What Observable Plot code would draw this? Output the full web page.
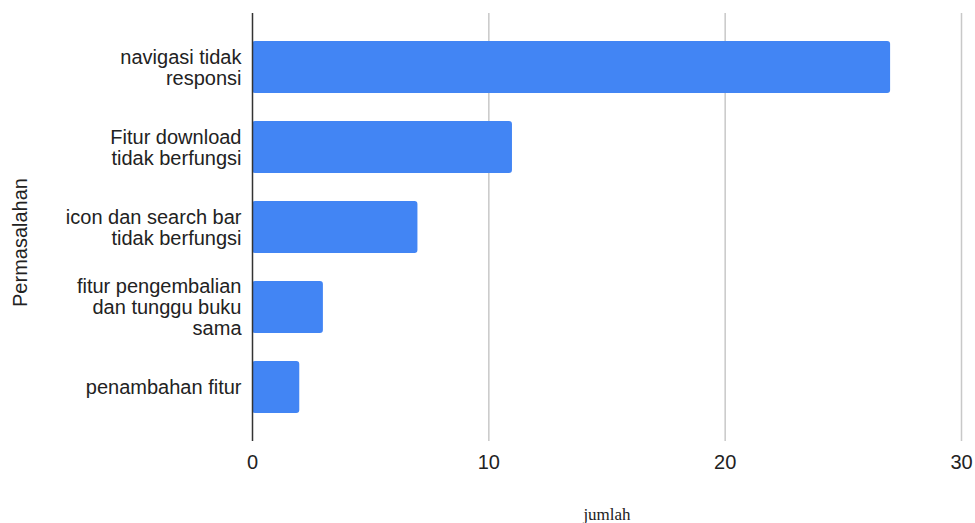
<!DOCTYPE html>
<html>
<head>
<meta charset="utf-8">
<script src="https://cdn.jsdelivr.net/npm/d3@7"></script>
<script src="https://cdn.jsdelivr.net/npm/@observablehq/plot@0.6"></script>
<style>
  html, body { margin: 0; padding: 0; background: #fff; }
  #chart svg { display: block; }
</style>
</head>
<body>
<div id="chart"></div>
<script>
// Problems reported, with how often each one came up
const categories = [
  "navigasi tidak responsi",
  "Fitur download tidak berfungsi",
  "icon dan search bar tidak berfungsi",
  "fitur pengembalian dan tunggu buku sama",
  "penambahan fitur"
];
const counts = [27, 11, 7, 3, 2];
// Wrapped versions of the category names for the y axis
const categoryLabels = [
  "navigasi tidak\nresponsi",
  "Fitur download\ntidak berfungsi",
  "icon dan search bar\ntidak berfungsi",
  "fitur pengembalian\ndan tunggu buku\nsama",
  "penambahan fitur"
];
const xTicks = [0, 10, 20, 30];
const xTitle = "jumlah";
const yTitle = "Permasalahan";

const data = categories.map((c, i) => ({category: c, count: counts[i]}));
const labelOf = new Map(categories.map((c, i) => [c, categoryLabels[i]]));

const sans = "Liberation Sans";
const serif = "Liberation Serif";

const chart = Plot.plot({
  width: 975,
  height: 523,
  marginLeft: 252,
  marginRight: 14,
  marginTop: 13,
  marginBottom: 82,
  style: {fontFamily: "'Liberation Sans', Arial, sans-serif", fontSize: "20px", color: "#222", background: "#fff"},
  x: {domain: [0, 30]},
  y: {domain: categories, paddingInner: 0.35, paddingOuter: 0.34},
  marks: [
    Plot.gridX(xTicks.filter(d => d !== 0), {stroke: "#c8c8c8", strokeOpacity: 1, strokeWidth: 1.5}),
    Plot.barX(data, {x: "count", y: "category", fill: "#4285f4", rx: 3}),
    Plot.ruleX([0], {stroke: "#333", strokeWidth: 1.5}),
    Plot.axisX({ticks: xTicks, tickSize: 0, tickPadding: 13, label: null,
                fontFamily: sans, fontSize: 20, fill: "#222"}),
    Plot.axisY({tickSize: 0, tickPadding: 11, label: null, tickFormat: d => labelOf.get(d),
                lineHeight: 1.05, fontFamily: sans, fontSize: 20, fill: "#222"}),
    Plot.text([xTitle], {frameAnchor: "bottom", dy: 78, fontFamily: serif, fontSize: 17, fill: "#222"}),
    Plot.text([yTitle], {frameAnchor: "left", textAnchor: "middle", dx: -232, dy: 15, rotate: -90,
                         fontFamily: sans, fontSize: 20, fill: "#222"})
  ]
});

document.getElementById("chart").append(chart);
</script>
</body>
</html>
